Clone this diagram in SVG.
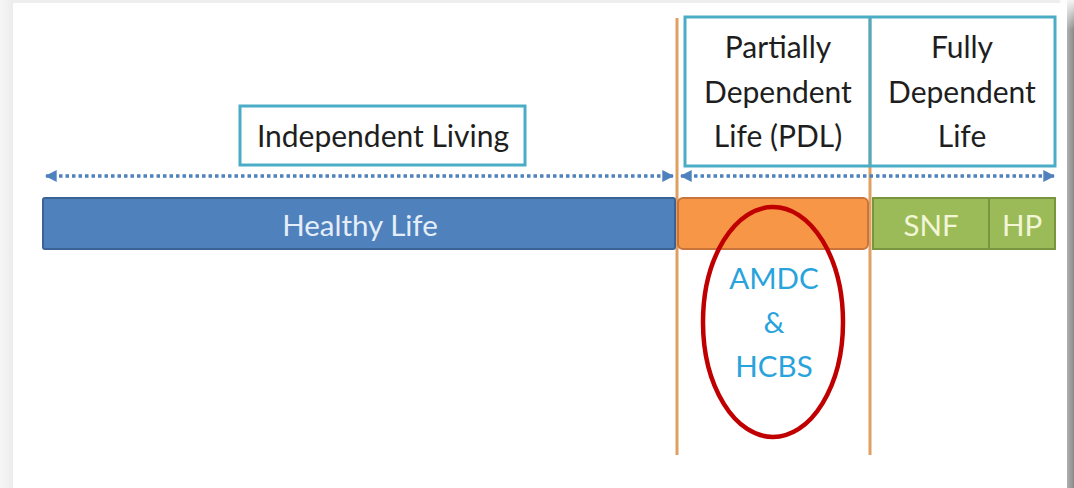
<svg xmlns="http://www.w3.org/2000/svg" width="1074" height="488" viewBox="0 0 1074 488">
<defs>
<style>
.lbl{font-family:Lato,"Open Sans","Liberation Sans",sans-serif;font-size:30px;fill:#1e1e1e;text-anchor:middle}
.bar{font-family:Lato,"Open Sans","Liberation Sans",sans-serif;font-size:29.5px;text-anchor:middle}
.box{fill:#ffffff;stroke:#4BACC6;stroke-width:3}
.arrow{stroke:#4F81BD;stroke-width:3.5;stroke-dasharray:3.5 3;fill:none}
.vline{stroke:#E0A060;stroke-width:3}
</style>
<marker id="ah" viewBox="0 0 10 10" refX="9" refY="5" markerWidth="3.4" markerHeight="3.4" orient="auto-start-reverse" markerUnits="strokeWidth">
<path d="M0,0 L10,5 L0,10 z" fill="#4F81BD"/>
</marker>
<linearGradient id="lg" x1="0" x2="1" y1="0" y2="0">
<stop offset="0" stop-color="#f6f6f6"/><stop offset="1" stop-color="#ececec"/>
</linearGradient>
<linearGradient id="rg" x1="0" x2="1" y1="0" y2="0">
<stop offset="0" stop-color="#b0b0b0"/><stop offset="1" stop-color="#8a8a8a"/>
</linearGradient>
<linearGradient id="rgv" x1="0" x2="0" y1="0" y2="1">
<stop offset="0" stop-color="#ffffff" stop-opacity="0.9"/><stop offset="0.25" stop-color="#ffffff" stop-opacity="0"/>
</linearGradient>
</defs>
<rect x="0" y="0" width="1074" height="488" fill="#ffffff"/>
<rect x="0" y="0" width="13" height="488" fill="url(#lg)"/>
<rect x="13" y="0" width="1055" height="3" fill="#eeeeee"/>
<rect x="1067" y="0" width="7" height="488" fill="url(#rg)"/>
<rect x="1060" y="0" width="14" height="120" fill="url(#rgv)"/>

<g id="vlines">
<line class="vline" x1="677" y1="18" x2="677" y2="455"/>
<line class="vline" x1="870" y1="18" x2="870" y2="455"/>
</g>

<g id="independent-living">
<rect class="box" x="240" y="106" width="285" height="59"/>
<text class="lbl" x="383" y="147">Independent Living</text>
</g>

<g id="dependent-boxes">
<rect x="685" y="17" width="370" height="149" fill="none" stroke="#4BACC6" stroke-width="3"/>
<line x1="870" y1="17" x2="870" y2="166" stroke="#4BACC6" stroke-width="3"/>
</g>
<g id="pdl">
<text class="lbl"><tspan x="778" y="58">Partially</tspan><tspan x="778" y="103">Dependent</tspan><tspan x="778" y="147">Life (PDL)</tspan></text>
</g>
<g id="fdl">
<text class="lbl"><tspan x="962" y="58">Fully</tspan><tspan x="962" y="103">Dependent</tspan><tspan x="962" y="147">Life</tspan></text>
</g>

<g id="connectors">
<line class="arrow" x1="46" y1="176" x2="673" y2="176" marker-start="url(#ah)" marker-end="url(#ah)"/>
<line class="arrow" x1="681" y1="176" x2="1054" y2="176" marker-start="url(#ah)" marker-end="url(#ah)"/>
</g>

<g id="healthy-life">
<rect x="43" y="198" width="632" height="51" rx="2" fill="#4F81BD" stroke="#3B6294" stroke-width="2"/>
<text class="bar" x="360" y="236" fill="#E4EEF8">Healthy Life</text>
</g>
<g id="pdl-bar">
<rect x="678" y="198" width="190" height="51" rx="5" fill="#F79646" stroke="#C9743A" stroke-width="2"/>
</g>
<g id="snf">
<rect x="873" y="198" width="116" height="51" fill="#9BBB59" stroke="#7A953F" stroke-width="2"/>
<text class="bar" x="931" y="236" fill="#F2F6D6">SNF</text>
</g>
<g id="hp">
<rect x="989" y="198" width="66" height="51" fill="#9BBB59" stroke="#7A953F" stroke-width="2"/>
<text class="bar" x="1022" y="236" fill="#F2F6D6">HP</text>
</g>

<g id="amdc-hcbs">
<ellipse cx="773" cy="322" rx="70" ry="115" fill="none" stroke="#C00000" stroke-width="4.5"/>
<text class="bar" fill="#29A3DC"><tspan x="774" y="289">AMDC</tspan><tspan x="774" y="333">&amp;</tspan><tspan x="774" y="377">HCBS</tspan></text>
</g>
</svg>
